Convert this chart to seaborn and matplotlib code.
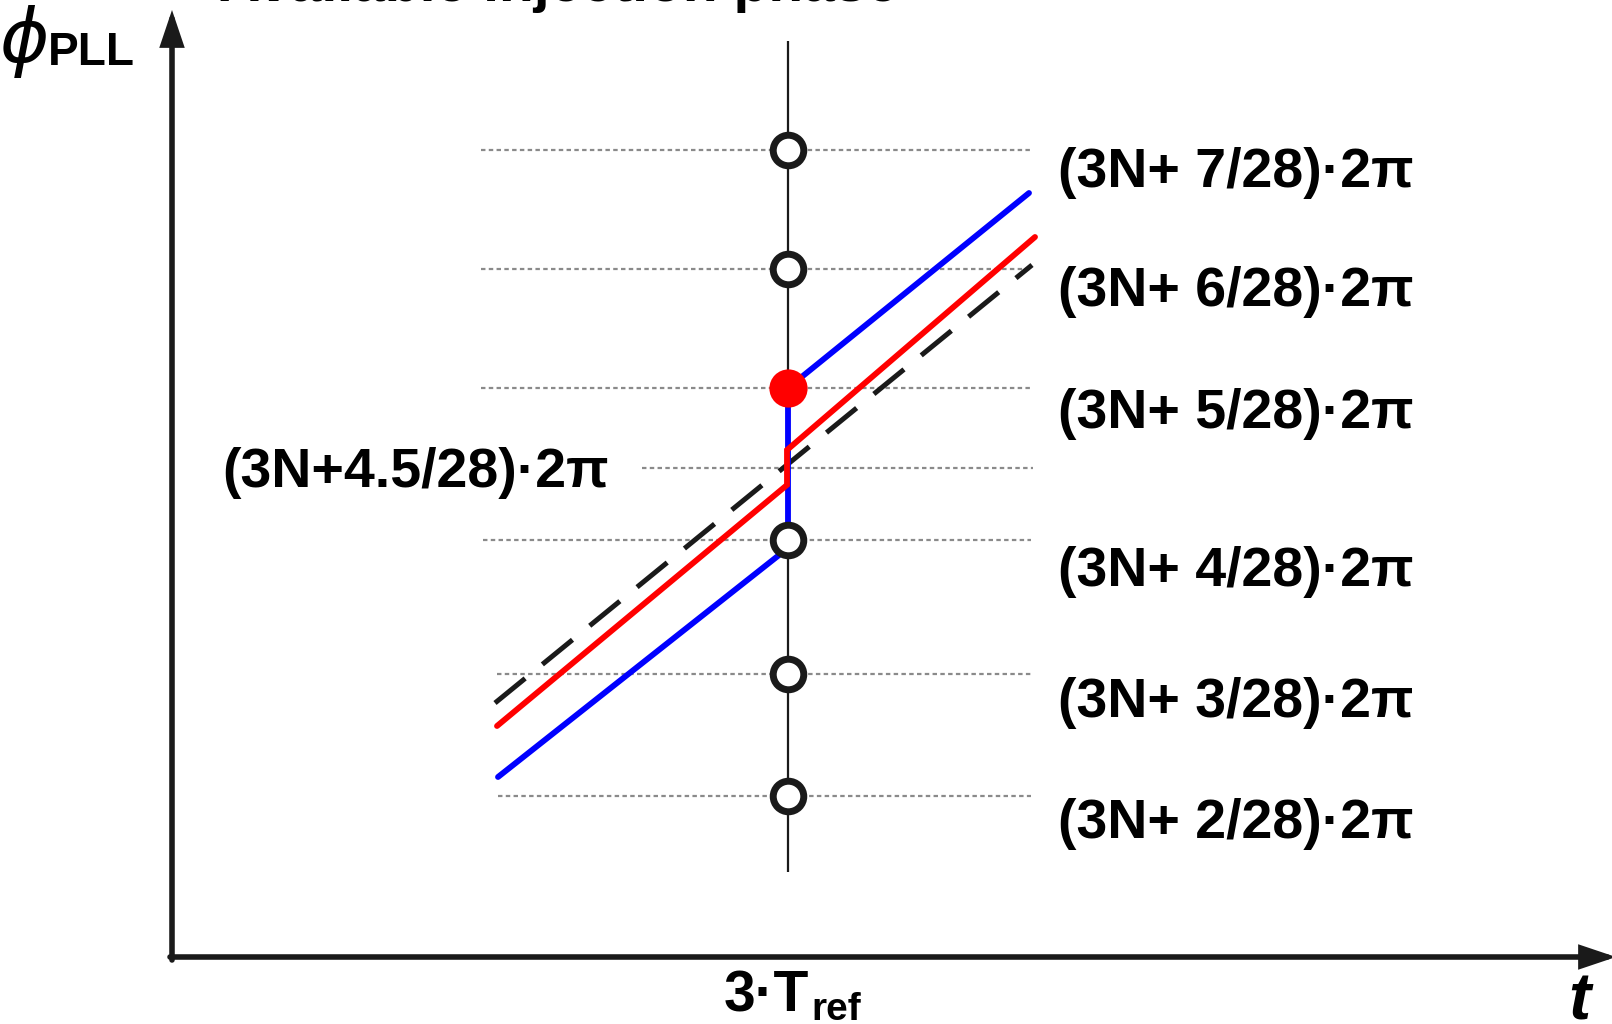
"""
Injection phase diagram: PLL phase ramps around the 3*Tref injection instant.
Coordinates are read off the reference picture (pixel-like units, y grows downward).
"""
import matplotlib
matplotlib.use("Agg")
import matplotlib.pyplot as plt
import seaborn as sns
import pandas as pd

# ── data ────────────────────────────────────────────────────────────────────
T_INJ = 788                       # x of the 3*Tref instant
VLINE_Y = [41, 872]

LEVEL_NAMES = ["7/28", "6/28", "5/28", "4.5/28", "4/28", "3/28", "2/28"]
LEVEL_Y = [150, 269, 388, 468, 540, 674, 796]
LEVEL_X0 = [481, 481, 481, 642, 483, 497, 498]
LEVEL_X1 = [1033, 1033, 1033, 1033, 1031, 1033, 1031]

OPEN_Y = [150, 269, 540, 674, 796]    # available phases (open circles)
CHOSEN_Y = [388]                      # selected phase (red dot)

BLUE_X = [498, 788, 788, 1029]
BLUE_Y = [777, 548, 388, 193]
RED_X = [497, 787, 787, 1035]
RED_Y = [726, 485, 450, 237]
DASH_X = [495, 1032]
DASH_Y = [703, 265]

RIGHT_LABELS = ["(3N+ 7/28)·2π", "(3N+ 6/28)·2π", "(3N+ 5/28)·2π",
                "(3N+ 4/28)·2π", "(3N+ 3/28)·2π", "(3N+ 2/28)·2π"]
RIGHT_BASE = [187, 306, 428, 586, 717, 838]
LEFT_LABEL = "(3N+4.5/28)·2π"

W, H = 1612, 1024


def main():
    sns.set_theme(style="white")
    plt.rcParams["font.family"] = ["Liberation Sans", "DejaVu Sans"]
    plt.rcParams["lines.scale_dashes"] = False

    fig = plt.figure(figsize=(W / 100, H / 100), dpi=100)
    ax = fig.add_axes([0, 0, 1, 1])
    ax.set_xlim(0, W)
    ax.set_ylim(H, 0)
    ax.set_axis_off()

    # ── reference levels (dotted grey) and injection instant ────────────────
    ax.hlines(LEVEL_Y, LEVEL_X0, LEVEL_X1, colors="#8a8a8a", lw=1.6,
              linestyles=(0, (3.2, 2.4)), zorder=1)
    ax.vlines(T_INJ, VLINE_Y[0], VLINE_Y[1], colors="k", lw=1.6, zorder=2)

    # ── phase ramps ─────────────────────────────────────────────────────────
    blue = pd.DataFrame({"t": BLUE_X, "phi": BLUE_Y})
    red = pd.DataFrame({"t": RED_X, "phi": RED_Y})
    dash = pd.DataFrame({"t": DASH_X, "phi": DASH_Y})
    sns.lineplot(data=dash, x="t", y="phi", sort=False, estimator=None, ax=ax,
                 color="k", lw=3.6, linestyle=(0, (28, 16)), zorder=3)
    sns.lineplot(data=red, x="t", y="phi", sort=False, estimator=None, ax=ax,
                 color="#ff0000", lw=4.2, solid_capstyle="round",
                 solid_joinstyle="miter", zorder=4)
    sns.lineplot(data=blue, x="t", y="phi", sort=False, estimator=None, ax=ax,
                 color="#0000ff", lw=4.2, solid_capstyle="round",
                 solid_joinstyle="miter", zorder=3.5)

    # ── phase points ────────────────────────────────────────────────────────
    sns.scatterplot(x=[T_INJ] * len(OPEN_Y), y=OPEN_Y, ax=ax, s=22 ** 2,
                    facecolor="white", edgecolor="k", linewidth=5, zorder=6)
    sns.scatterplot(x=[T_INJ] * len(CHOSEN_Y), y=CHOSEN_Y, ax=ax, s=27.5 ** 2,
                    color="#ff0000", linewidth=0, zorder=6)

    # ── axes arrows ─────────────────────────────────────────────────────────
    arrow = dict(arrowstyle="-|>,head_length=0.95,head_width=0.32",
                 mutation_scale=20, lw=4, color="k",
                 shrinkA=0, shrinkB=0, joinstyle="miter")
    ax.annotate("", xy=(172, 10), xytext=(172, 960), arrowprops=arrow,
                annotation_clip=False)
    ax.annotate("", xy=(1616, 957), xytext=(170, 957), arrowprops=arrow,
                annotation_clip=False)

    # ── text ────────────────────────────────────────────────────────────────
    bold = dict(fontweight="bold", color="black", va="baseline", ha="left")
    for lab, yb in zip(RIGHT_LABELS, RIGHT_BASE):
        ax.text(1058, yb, lab, fontsize=40, **bold)
    ax.text(222, 487, LEFT_LABEL, fontsize=40, **bold)

    ax.text(219, 1, "Available injection phase", fontsize=41, **bold)

    ax.text(0, 62, "ϕ", fontsize=54, style="italic", color="black",
            va="baseline", ha="left", family=["DejaVu Sans"])
    ax.text(48, 65, "PLL", fontsize=33, **bold)

    ax.text(724, 1011, "3·T", fontsize=41, **bold)
    ax.text(811, 1020, "ref", fontsize=28, **bold)
    ax.text(1568, 1020, "t", fontsize=48, style="italic", **bold)

    fig.savefig("out.png", dpi=100)


if __name__ == "__main__":
    main()
